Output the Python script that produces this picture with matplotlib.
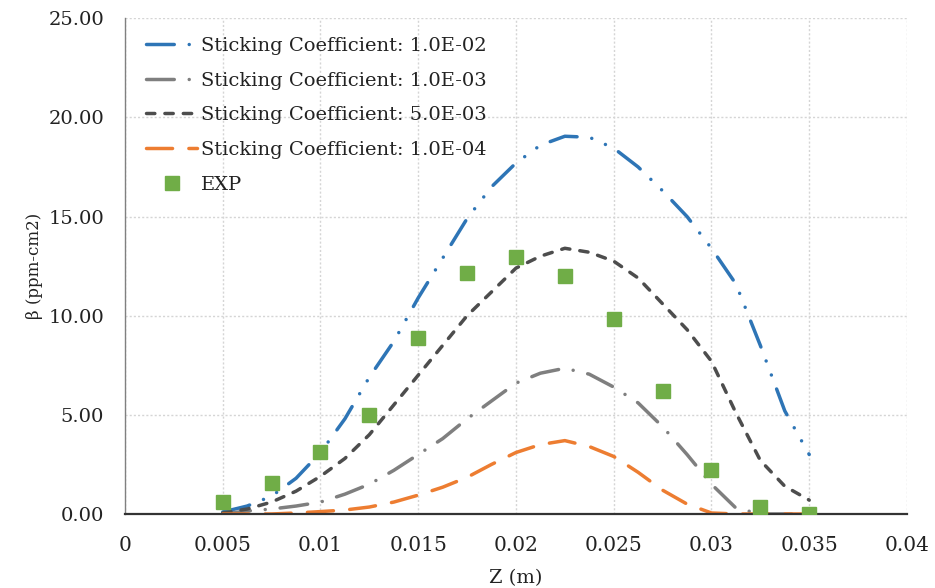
import numpy as np
import matplotlib
matplotlib.use("Agg")
import matplotlib.pyplot as plt

# Z positions (m)
z = [0.005, 0.00625, 0.0075, 0.00875, 0.01, 0.01125, 0.0125, 0.01375, 0.015,
     0.01625, 0.0175, 0.01875, 0.02, 0.02125, 0.0225, 0.02375, 0.025, 0.02625,
     0.0275, 0.02875, 0.03, 0.03125, 0.0325, 0.03375, 0.035]

sc_1e2 = [0.1, 0.4, 0.9, 1.8, 3.1, 4.8, 6.9, 8.7, 10.9,
          12.9, 14.9, 16.5, 17.7, 18.6, 19.05, 19.0, 18.45, 17.5,
          16.3, 15.0, 13.4, 11.6, 8.5, 5.2, 3.0]
sc_1e3 = [0.0, 0.15, 0.25, 0.4, 0.6, 1.0, 1.5, 2.2, 3.0,
          3.8, 4.8, 5.7, 6.6, 7.1, 7.35, 7.05, 6.4, 5.6,
          4.4, 3.0, 1.5, 0.3, 0.0, 0.0, 0.0]
sc_5e3 = [0.05, 0.25, 0.6, 1.15, 1.9, 2.8, 4.0, 5.5, 7.0,
          8.5, 10.0, 11.2, 12.4, 13.0, 13.4, 13.2, 12.75, 11.9,
          10.6, 9.3, 7.7, 5.1, 2.7, 1.4, 0.7]
sc_1e4 = [0.0, 0.0, 0.0, 0.05, 0.12, 0.2, 0.35, 0.6, 0.95,
          1.35, 1.85, 2.5, 3.1, 3.5, 3.7, 3.4, 2.9, 2.1,
          1.2, 0.5, 0.05, 0.0, 0.0, 0.0, 0.0]

z_exp = [0.005, 0.0075, 0.01, 0.0125, 0.015, 0.0175, 0.02, 0.0225, 0.025,
         0.0275, 0.03, 0.0325, 0.035]
beta_exp = [0.6, 1.55, 3.15, 5.0, 8.85, 12.15, 12.95, 12.0, 9.85,
            6.2, 2.2, 0.35, 0.0]

xtick_labels = ["0", "0.005", "0.01", "0.015", "0.02", "0.025", "0.03", "0.035", "0.04"]

fig = plt.figure(figsize=(9.35, 5.88), dpi=100)
ax = fig.add_axes([0.1337, 0.1259, 0.8363, 0.843])

lw = 2.5
ax.plot(z, sc_1e2, color="#2E75B6", lw=lw, dashes=(8, 4.3, 0.01, 4.3, 0.01, 4.3),
        dash_capstyle="round", label="Sticking Coefficient: 1.0E-02")
ax.plot(z, sc_1e3, color="#7F7F7F", lw=lw, dashes=(8, 4.3, 0.01, 4.3),
        dash_capstyle="round", label="Sticking Coefficient: 1.0E-03")
ax.plot(z, sc_5e3, color="#4D4D4D", lw=lw, dashes=(2.4, 2.9),
        dash_capstyle="round", label="Sticking Coefficient: 5.0E-03")
ax.plot(z, sc_1e4, color="#ED7D31", lw=lw, dashes=(7.5, 4.7),
        dash_capstyle="round", label="Sticking Coefficient: 1.0E-04")
ax.plot(z_exp, beta_exp, ls="none", marker="s", ms=10.5, color="#70AD47",
        label="EXP", zorder=5)

ax.set_xlim(0, 0.04)
ax.set_ylim(0, 25)
ax.set_xticks(np.arange(0, 0.0401, 0.005))
ax.set_xticklabels(xtick_labels, family="DejaVu Serif", fontsize=14.5, color="#222222")
ax.set_yticks(np.arange(0, 25.1, 5))
ax.set_yticklabels(["%.2f" % v for v in np.arange(0, 25.1, 5)],
                   family="DejaVu Serif", fontsize=14, color="#222222")
ax.tick_params(length=0)
ax.tick_params(axis="y", pad=15)
ax.tick_params(axis="x", pad=16)

ax.grid(True, color="#D5D5D5", ls=(0, (1.5, 1.5)), lw=1)
ax.set_axisbelow(True)
for s in ["top", "right"]:
    ax.spines[s].set_visible(False)
ax.spines["left"].set_color("#808080")
ax.spines["left"].set_linewidth(1)
ax.spines["bottom"].set_color("#333333")
ax.spines["bottom"].set_linewidth(1.6)

ax.set_xlabel("Z (m)", family="DejaVu Serif", fontsize=14, color="#222222", labelpad=10)
ax.set_ylabel("β (ppm-cm2)", family="DejaVu Serif", fontsize=12, color="#222222", labelpad=4)

leg = ax.legend(loc="upper left", frameon=False, prop={"family": "DejaVu Serif", "size": 14},
                handlelength=2.6, handletextpad=0.2, labelspacing=0.86,
                borderaxespad=0.3, bbox_to_anchor=(0.01, 0.99))
for t in leg.get_texts():
    t.set_color("#222222")

fig.savefig("out.png", dpi=100)
